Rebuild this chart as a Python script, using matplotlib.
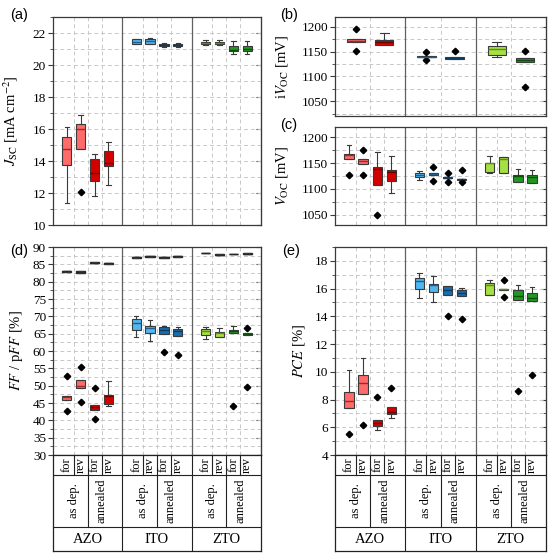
import matplotlib
matplotlib.use('Agg')
import matplotlib.pyplot as plt
from matplotlib.ticker import MultipleLocator

plt.rcParams['font.family'] = ['Liberation Serif', 'DejaVu Serif']
plt.rcParams['mathtext.fontset'] = 'stix'

# ---------------- data ----------------
groups = ['AZO', 'ITO', 'ZTO']
treatments = ['as dep.', 'annealed']
scans = ['for', 'rev']

# Jsc (12 boxes: AZO asdep for/rev, AZO ann for/rev, ITO ..., ZTO ...)
jsc_lo  = [11.35, 14.73, 11.81, 12.50, 21.30, 21.30, 21.15, 21.15, 21.25, 21.25, 20.69, 20.69]
jsc_q1  = [13.75, 14.73, 12.73, 13.69, 21.32, 21.32, 21.17, 21.17, 21.30, 21.30, 20.85, 20.85]
jsc_med = [14.73, 15.98, 13.23, 13.90, 21.45, 21.50, 21.22, 21.22, 21.40, 21.38, 20.95, 21.00]
jsc_q3  = [15.52, 16.31, 14.13, 14.65, 21.62, 21.62, 21.30, 21.30, 21.45, 21.45, 21.17, 21.17]
jsc_hi  = [16.15, 16.85, 14.44, 15.21, 21.65, 21.66, 21.35, 21.35, 21.55, 21.55, 21.50, 21.50]
jsc_fl  = [[], [12.06], [], [], [], [], [], [], [], [], [], []]

# iVoc (6 boxes: AZO asdep, AZO ann, ITO asdep, ITO ann, ZTO asdep, ZTO ann)
ivoc_lo  = [1169.5, 1163.3, 1139.0, 1134.7, 1140.0, 1129.4]
ivoc_q1  = [1169.5, 1163.3, 1139.0, 1134.7, 1143.7, 1129.4]
ivoc_med = [1172.0, 1169.4, 1140.2, 1137.5, 1154.5, 1134.0]
ivoc_q3  = [1175.0, 1173.5, 1141.0, 1139.6, 1160.6, 1138.0]
ivoc_hi  = [1175.0, 1187.0, 1141.0, 1139.6, 1169.4, 1138.0]
ivoc_fl  = [[1196.7, 1151.8], [], [1149.0, 1132.7], [1151.0], [], [1151.0, 1077.6]]

# Voc
voc_lo  = [1157.3, 1149.0, 1107.5, 1092.0, 1117.0, 1127.2, 1120.5, 1118.0, 1131.0, 1129.9, 1113.8, 1111.3]
voc_q1  = [1157.3, 1149.0, 1107.5, 1115.1, 1122.2, 1127.2, 1120.5, 1118.0, 1131.8, 1129.9, 1113.8, 1111.3]
voc_med = [1164.9, 1155.0, 1138.0, 1131.8, 1126.6, 1128.5, 1121.5, 1119.0, 1149.6, 1157.3, 1125.3, 1123.4]
voc_q3  = [1168.2, 1158.6, 1142.5, 1136.2, 1131.0, 1129.9, 1122.3, 1120.0, 1151.0, 1161.5, 1127.2, 1126.0]
voc_hi  = [1185.4, 1158.6, 1171.3, 1163.6, 1134.3, 1129.9, 1122.3, 1120.0, 1163.0, 1162.4, 1138.1, 1137.5]
voc_fl  = [[1126.0], [1175.8, 1127.2], [1050.0], [], [], [1142.5, 1115.0], [1131.0, 1112.6],
           [1137.5, 1113.0], [], [], [], []]

# FF
ff_lo  = [46.0, 49.4, 43.1, 44.05, 63.9, 62.8, 64.9, 64.3, 63.5, 63.9, 65.1, 64.5]
ff_q1  = [46.0, 49.4, 43.1, 44.8, 66.0, 65.3, 64.9, 64.3, 64.5, 64.1, 65.1, 64.5]
ff_med = [46.6, 49.8, 43.9, 47.0, 68.05, 66.6, 66.2, 65.8, 65.85, 65.1, 65.85, 64.9]
ff_q3  = [47.1, 51.5, 44.3, 47.4, 69.2, 67.1, 67.0, 66.4, 66.3, 65.6, 66.1, 65.3]
ff_hi  = [47.1, 51.5, 44.3, 51.3, 70.0, 68.9, 67.2, 66.9, 66.9, 66.5, 67.1, 65.3]
ff_fl  = [[52.8, 42.8], [55.4, 45.3], [49.2, 40.5], [], [], [], [59.6], [58.9], [], [], [44.0], [66.6, 49.6]]

# pFF
pff_q1  = [82.9, 82.4, 85.3, 85.2, 86.95, 87.15, 86.85, 87.15, 88.15, 87.65, 87.85, 87.95]
pff_med = [83.1, 82.7, 85.5, 85.4, 87.1, 87.3, 87.0, 87.3, 88.3, 87.8, 88.0, 88.1]
pff_q3  = [83.2, 83.0, 85.6, 85.5, 87.2, 87.4, 87.1, 87.4, 88.4, 87.9, 88.1, 88.2]

# PCE
pce_lo  = [7.41, 8.37, 5.80, 6.64, 15.30, 15.06, 15.54, 15.45, 15.57, 15.90, 15.16, 15.09]
pce_q1  = [7.41, 8.37, 6.11, 6.93, 15.95, 15.76, 15.54, 15.45, 15.57, 15.90, 15.16, 15.09]
pce_med = [7.89, 9.16, 6.33, 7.12, 16.53, 16.24, 15.88, 15.69, 16.24, 15.95, 15.45, 15.30]
pce_q3  = [8.51, 9.74, 6.52, 7.43, 16.79, 16.36, 16.19, 15.88, 16.43, 15.98, 15.93, 15.69]
pce_hi  = [10.12, 11.0, 6.52, 7.43, 17.15, 16.89, 16.19, 16.05, 16.62, 15.98, 16.29, 16.14]
pce_fl  = [[5.49], [6.16], [8.18], [8.80], [], [], [14.0], [13.84], [], [15.4, 16.62], [8.63], [9.74]]

# ---------------- style ----------------
fill_cols = {('AZO', 0): '#ff6b6b', ('AZO', 1): '#d40000',
             ('ITO', 0): '#52b6ef', ('ITO', 1): '#1a6dab',
             ('ZTO', 0): '#a6e042', ('ZTO', 1): '#1f9a1f'}
med_cols = {('AZO', 0): '#a02828', ('AZO', 1): '#6e0000',
            ('ITO', 0): '#1d5f8f', ('ITO', 1): '#0b3b66',
            ('ZTO', 0): '#5e8a20', ('ZTO', 1): '#0a500a'}
EDGE = '#3a3a3a'
GRID = '#c8c8c8'
DIV = '#606060'
TICK_FS = 9.5
LAB_FS = 10.5

W = 554.0
fig = plt.figure(figsize=(5.54, 5.54), dpi=100)


def ax_at(l, t, r, b):
    return fig.add_axes([l / W, 1 - b / W, (r - l) / W, (b - t) / W])


def four_keys():
    keys, pos = [], []
    for g, grp in enumerate(groups):
        for t in range(2):
            for s in range(2):
                keys.append((grp, t))
                pos.append(g * 5 + 1 + 2 * t + s)
    return keys, pos


def two_keys():
    keys, pos = [], []
    for g, grp in enumerate(groups):
        for t in range(2):
            keys.append((grp, t))
            pos.append(g * 5 + 1.5 + 2 * t)
    return keys, pos


def draw(ax, lo, q1, med, q3, hi, fl, keys, pos, width, dark_med=False):
    stats = [dict(whislo=a, q1=b, med=c, q3=d, whishi=e, fliers=f)
             for a, b, c, d, e, f in zip(lo, q1, med, q3, hi, fl)]
    res = ax.bxp(stats, positions=pos, widths=width, patch_artist=True,
                 showfliers=True, manage_ticks=False,
                 boxprops=dict(edgecolor=EDGE, linewidth=0.8),
                 whiskerprops=dict(color=EDGE, linewidth=0.8),
                 capprops=dict(color=EDGE, linewidth=0.8),
                 medianprops=dict(linewidth=1.0),
                 flierprops=dict(marker='D', markersize=3.3, markerfacecolor='black',
                                 markeredgecolor='black', linestyle='none'))
    for b, m, k in zip(res['boxes'], res['medians'], keys):
        b.set_facecolor(fill_cols[k])
        m.set_color('#2a2a2a' if dark_med else med_cols[k])
        if dark_med:
            b.set_edgecolor('#2a2a2a')
            b.set_linewidth(1.0)
    return res


def style(ax, ylim, major, minor, vgrid, label, labx):
    ax.set_xlim(0, 15)
    ax.set_ylim(*ylim)
    ax.yaxis.set_major_locator(MultipleLocator(major))
    ax.yaxis.set_minor_locator(MultipleLocator(minor))
    ax.set_xticks(vgrid)
    ax.tick_params(axis='x', which='both', length=0, labelbottom=False)
    ax.tick_params(axis='y', which='major', direction='out', length=3.5, width=0.8,
                   labelsize=TICK_FS, pad=1.5, color=EDGE)
    ax.tick_params(axis='y', which='minor', direction='out', length=2, width=0.6, color=EDGE)
    ax.set_axisbelow(True)
    ax.grid(True, axis='y', which='both', ls=(0, (4, 3)), color=GRID, lw=0.7)
    ax.grid(True, axis='x', which='major', ls=(0, (4, 3)), color=GRID, lw=0.7)
    for s in ax.spines.values():
        s.set_color(EDGE)
        s.set_linewidth(0.9)
    sec = ax.secondary_yaxis('right')
    sec.yaxis.set_major_locator(MultipleLocator(major))
    sec.yaxis.set_minor_locator(MultipleLocator(minor))
    sec.tick_params(axis='y', which='major', direction='in', length=3.5, width=0.8,
                    labelright=False, color=EDGE)
    sec.tick_params(axis='y', which='minor', direction='in', length=2, width=0.6, color=EDGE)
    sec.spines['right'].set_color(EDGE)
    for x in (5, 10):
        ax.axvline(x, color=DIV, lw=0.9, zorder=1.5)
    ax.set_ylabel(label, fontsize=LAB_FS)
    ax.yaxis.set_label_coords(labx, 0.5)


def table(ax):
    ax.set_xlim(0, 15)
    ax.set_ylim(96, 0)
    ax.set_xticks([])
    ax.set_yticks([])
    for s in ax.spines.values():
        s.set_color('#222222')
        s.set_linewidth(0.9)
    lc = dict(color='#222222', lw=0.8)
    ax.axhline(19.5, **lc)
    ax.axhline(72, **lc)
    for x in (5, 10):
        ax.axvline(x, **lc)
    for g, grp in enumerate(groups):
        x0 = g * 5
        for sep in (1.5, 2.5, 3.5):
            ax.plot([x0 + sep] * 2, [0, 19.5], **lc)
        ax.plot([x0 + 2.5] * 2, [19.5, 72], **lc)
        for i in range(4):
            ax.text(x0 + 1 + i, 9.9, scans[i % 2], rotation=90, ha='center', va='center',
                    fontsize=9)
        for j, t in enumerate(treatments):
            ax.text(x0 + 1.5 + 2 * j, 46, t, rotation=90, ha='center', va='center',
                    fontsize=9)
        ax.text(x0 + 2.5, 84.5, grp, ha='center', va='center', fontsize=10.5)


k4, p4 = four_keys()
k2, p2 = two_keys()
vg4 = [g * 5 + v for g in range(3) for v in (1.5, 2.5, 3.5)]
vg2 = [g * 5 + 2.5 for g in range(3)]

# (a) Jsc
axa = ax_at(53, 17, 261, 225)
draw(axa, jsc_lo, jsc_q1, jsc_med, jsc_q3, jsc_hi, jsc_fl, k4, p4, 0.66)
style(axa, (10, 23), 2, 1, vg4, r'$J_{\mathrm{SC}}$ [mA cm$^{-2}$]', -0.16)

# (b) iVoc
axb = ax_at(335, 17, 546, 116)
draw(axb, ivoc_lo, ivoc_q1, ivoc_med, ivoc_q3, ivoc_hi, ivoc_fl, k2, p2, 1.3)
style(axb, (1020, 1220), 50, 25, vg2, r'i$V_{\mathrm{OC}}$ [mV]', -0.215)

# (c) Voc
axc = ax_at(335, 127, 546, 225)
draw(axc, voc_lo, voc_q1, voc_med, voc_q3, voc_hi, voc_fl, k4, p4, 0.66)
style(axc, (1030, 1220), 50, 25, vg4, r'$V_{\mathrm{OC}}$ [mV]', -0.215)

# (d) FF / pFF
axd = ax_at(53, 247, 261, 455)
draw(axd, ff_lo, ff_q1, ff_med, ff_q3, ff_hi, ff_fl, k4, p4, 0.66)
draw(axd, pff_q1, pff_q1, pff_med, pff_q3, pff_q3, [[]] * 12, k4, p4, 0.66, dark_med=True)
style(axd, (30, 90), 5, 2.5, vg4, r'$FF$ / p$FF$ [%]', -0.135)

# (e) PCE
axe = ax_at(335, 247, 546, 455)
draw(axe, pce_lo, pce_q1, pce_med, pce_q3, pce_hi, pce_fl, k4, p4, 0.66)
style(axe, (4, 19), 2, 1, vg4, r'$PCE$ [%]', -0.135)

# category tables
table(ax_at(53, 455, 261, 551))
table(ax_at(335, 455, 546, 551))

# panel letters
for lab, x, y in [('(a)', 10, 15), ('(b)', 280, 15), ('(c)', 280, 125),
                  ('(d)', 10, 251), ('(e)', 282, 251)]:
    fig.text(x / W, 1 - y / W, lab, fontsize=10.5, family=['Liberation Sans', 'DejaVu Sans'],
             ha='left', va='center')

fig.savefig('out.png', dpi=100)
